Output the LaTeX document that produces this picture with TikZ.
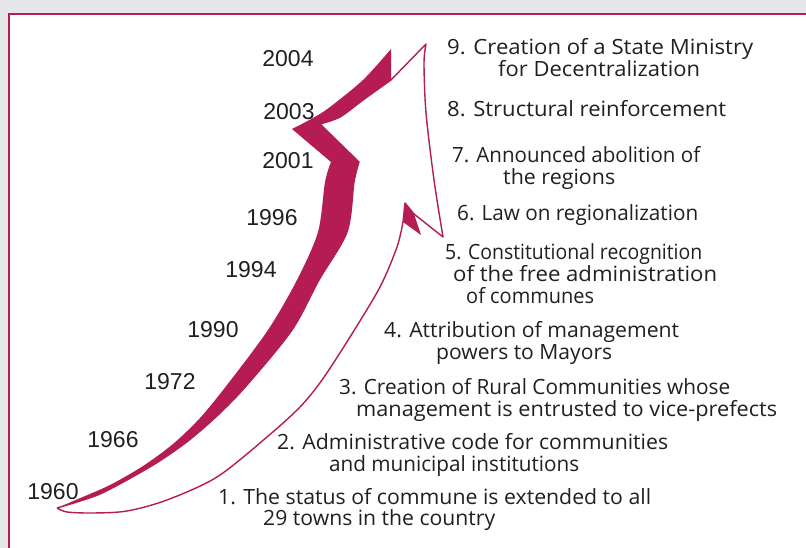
\documentclass[tikz,border=0pt]{standalone}
\usepackage{fontspec}
\usepackage{graphicx}
\newfontfamily\itemfont{Open Sans}
\newfontfamily\yearfont{Liberation Sans}
\definecolor{crim}{RGB}{182,28,84}
\definecolor{bggray}{RGB}{230,231,233}
\definecolor{ink}{RGB}{35,31,32}
\newlength\reflen
\newcommand\itemsize{\itemfont\fontsize{21}{24}\selectfont}
\newcommand\fitw[2]{\settowidth\reflen{#2}\pgfmathsetmacro\tmpr{#1/\reflen}\scalebox{\tmpr}[1]{#2}}
\begin{document}
\begin{tikzpicture}[x=1pt,y=-1pt,
  year/.style={font=\yearfont\fontsize{23}{25}\selectfont, text=ink, inner sep=0pt},
  itm/.style={anchor=base west, inner sep=0pt, text=ink, font=\itemsize},
  outline/.style={draw=crim, line width=1.4pt, line join=round}]
\useasboundingbox (0,0) rectangle (806,548);
% frame
\fill[bggray] (0,0) rectangle (806,548);
\fill[white] (9,14) rectangle (806,548);
\draw[crim, line width=2pt] (9,548) -- (9,14) -- (806,14);
% back face (crimson band)
\fill[crim] plot[smooth, tension=0.5] coordinates {(57,508) (78,499) (110,485) (143,466) (173,444) (200,418) (227,385) (268,330) (297,280) (318,232) (325,182) (331,162)}
  -- (292,129)
  -- plot[smooth, tension=0.5] coordinates {(292,129) (313,118) (330,107) (363,80) (391,49)}
  -- (391,80)
  -- plot[smooth, tension=0.5] coordinates {(391,80) (363,100) (340,117) (320,124)}
  -- (359,162)
  -- plot[smooth, tension=0.5] coordinates {(359,162) (354,182) (347,232) (319,280) (292,330) (247,385) (218,415) (188,441) (158,462) (127,480) (100,494) (77,502) (57,508)}
  -- cycle;
\fill[crim] (405,203) -- (414,214) -- (421,235) -- (403,222) -- cycle;
% front face outline
\draw[outline] plot[smooth, tension=0.5] coordinates {(57,508) (67,512) (93,513) (127,511) (167,500) (217,477) (267,437) (300,407) (322,380) (350,337) (380,287) (397,247) (403,222)}
  -- (405,203) -- (414,214) -- (443,237)
  -- plot[smooth, tension=0.5] coordinates {(443,237) (434,180) (426,113) (424,63) (426,44)}
  -- (391,80)
  -- plot[smooth, tension=0.5] coordinates {(391,80) (363,100) (340,117) (320,124)}
  -- (359,162)
  -- plot[smooth, tension=0.5] coordinates {(359,162) (354,182) (347,232) (319,280) (292,330) (247,385) (218,415) (188,441) (158,462) (127,480) (100,494) (77,502) (57,508)};
% years
\node[year] (y2004) at (288,59) {2004};
\node[year] (y2003) at (289,112) {2003};
\node[year] (y2001) at (288,161) {2001};
\node[year] (y1996) at (272,218) {1996};
\node[year] (y1994) at (251,270) {1994};
\node[year] (y1990) at (213,330) {1990};
\node[year] (y1972) at (170,382) {1972};
\node[year] (y1966) at (113,440) {1966};
\node[year] (y1960) at (53,492) {1960};
% items
\node[itm] (i9a) at (447,55) {\fitw{306}{9. Creation of a State Ministry}};
\node[itm] (i9b) at (498,77) {\fitw{202}{for Decentralization}};
\node[itm] (i8) at (447,117) {\fitw{279}{8. Structural reinforcement}};
\node[itm] (i7a) at (452,163) {\fitw{248}{7. Announced abolition of}};
\node[itm] (i7b) at (503,185) {\fitw{112}{the regions}};
\node[itm] (i6) at (457,221) {\fitw{241}{6. Law on regionalization}};
\node[itm] (i5a) at (445,259) {\fitw{257}{5. Constitutional recognition}};
\node[itm] (i5b) at (453,281) {\fitw{264}{of the free administration}};
\node[itm] (i5c) at (466,303) {\fitw{128}{of communes}};
\node[itm] (i4a) at (384,337) {\fitw{295}{4. Attribution of management}};
\node[itm] (i4b) at (436,359) {\fitw{176}{powers to Mayors}};
\node[itm] (i3a) at (339,394) {\fitw{391}{3. Creation of Rural Communities whose}};
\node[itm] (i3b) at (356,416) {\fitw{421}{management is entrusted to vice-prefects}};
\node[itm] (i2a) at (277,449) {\fitw{391}{2. Administrative code for communities}};
\node[itm] (i2b) at (329,471) {\fitw{250}{and municipal institutions}};
\node[itm] (i1a) at (218,504) {\fitw{433}{1. The status of commune is extended to all}};
\node[itm] (i1b) at (263,525) {\fitw{232}{29 towns in the country}};
\end{tikzpicture}
\end{document}
